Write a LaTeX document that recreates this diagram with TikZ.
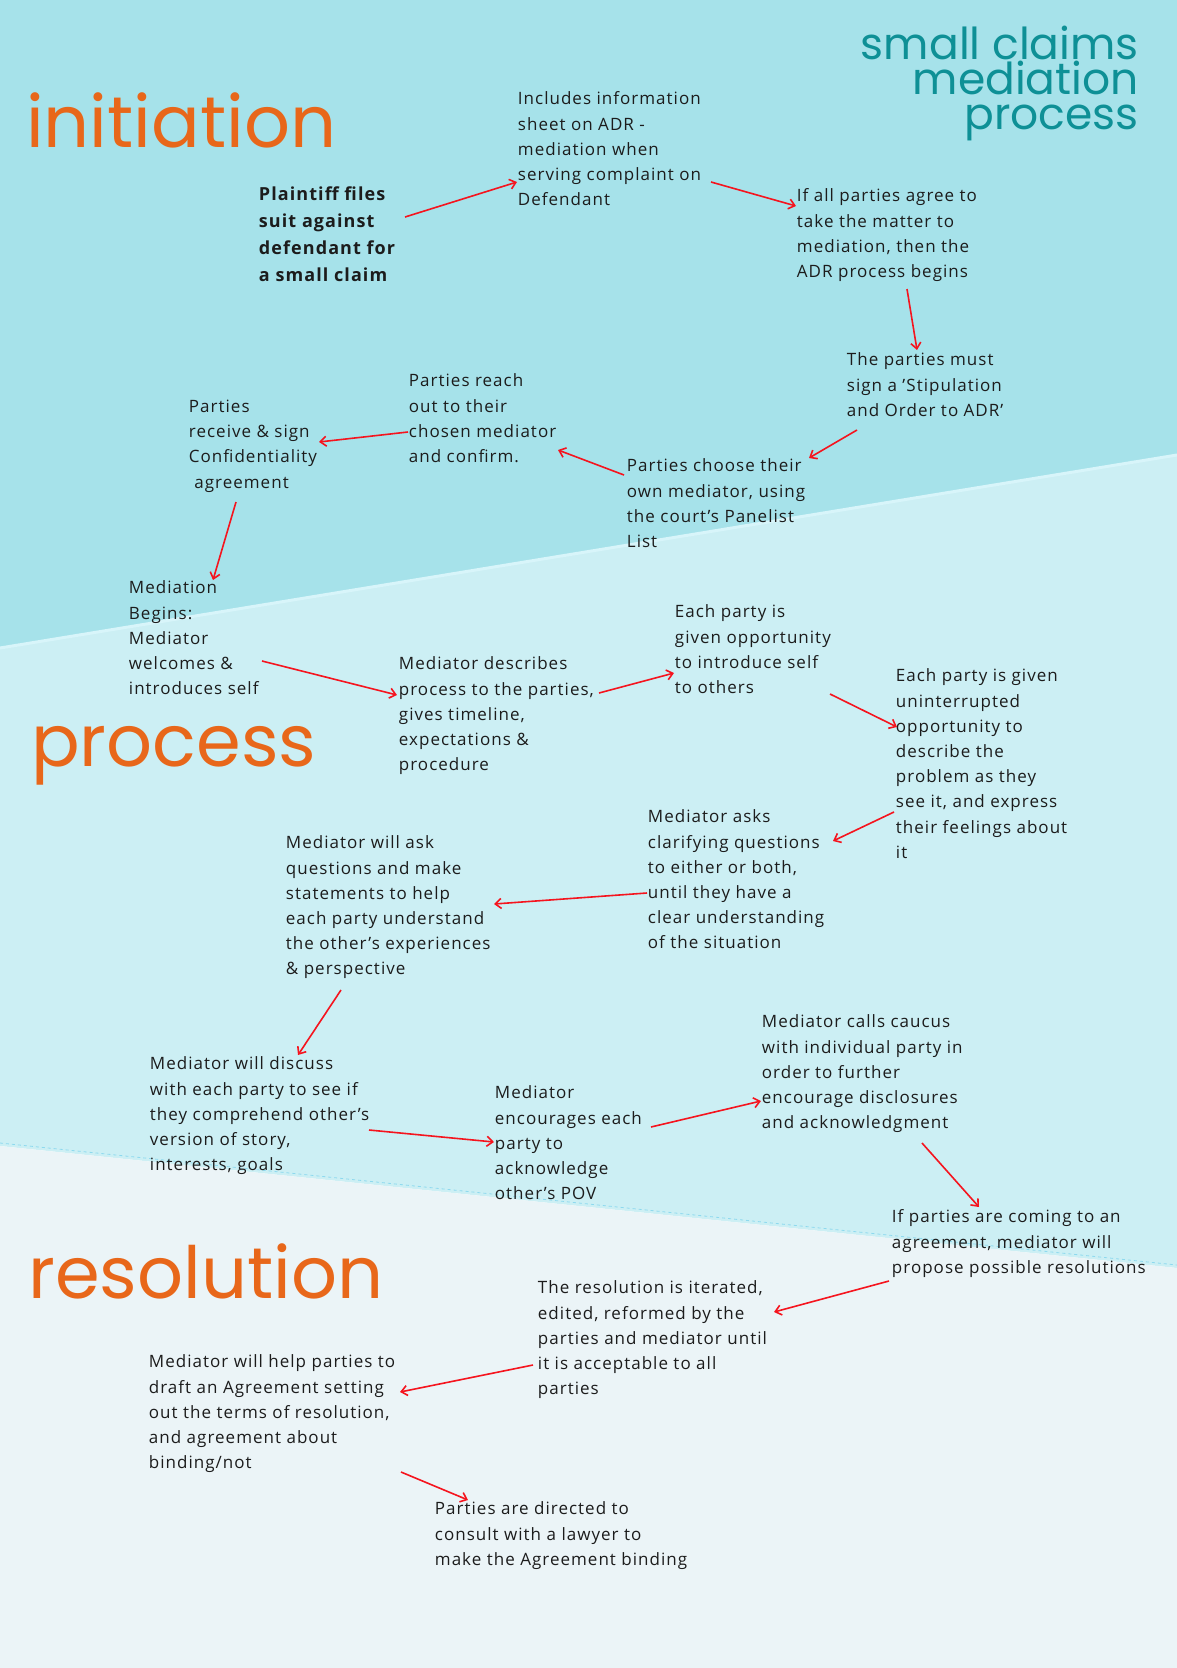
\documentclass[tikz,border=0pt]{standalone}
\usepackage{fontspec}
\setmainfont{Open Sans}[LetterSpace=6]
\newfontfamily\headfont{Poppins}
\usetikzlibrary{arrows,arrows.meta,calc}

\definecolor{topband}{HTML}{A6E2EA}
\definecolor{midband}{HTML}{CCEFF4}
\definecolor{lowband}{HTML}{EBF4F7}
\definecolor{seamline}{HTML}{D8F5FA}
\definecolor{dashline}{HTML}{8ED9EE}
\definecolor{titleteal}{HTML}{0E9096}
\definecolor{stageorange}{HTML}{E8671A}
\definecolor{notetext}{HTML}{1C1C1C}
\definecolor{linkred}{HTML}{F5141E}

\begin{document}
\begin{tikzpicture}[x=1pt,y=1pt,yscale=-1,xscale=1,
  note/.style={anchor=north west,inner sep=0.75pt,align=left,text=notetext,
    font=\fontsize{17}{25.2}\selectfont},
  stage/.style={anchor=base west,inner sep=0pt,text=stageorange,
    font=\headfont\fontsize{72}{80}\selectfont},
  link/.style={-{Straight Barb[length=6pt,width=10pt]},draw=linkred,line width=1.6pt}]
\path[use as bounding box] (0,0) rectangle (1177,1668);

%Shape: bands
\fill[topband] (0,0) -- (1177,0) -- (1177,455) -- (0,648) -- cycle;
\fill[midband] (0,648) -- (1177,455) -- (1177,1268) -- (0,1146) -- cycle;
\fill[lowband] (0,1146) -- (1177,1268) -- (1177,1668) -- (0,1668) -- cycle;
\draw[seamline,line width=3pt] (0,648) -- (1177,455);
\draw[dashline,dashed,line width=0.8pt] (0,1143) -- (1177,1265);

% Title
\draw (1139,26) node (title) [anchor=north east][inner sep=0pt][align=right]
  [text=titleteal,font=\headfont\fontsize{44}{35}\selectfont] {small claims\\mediation\\process};

% Stage Nodes
\draw (26,147) node (initiation) [stage] {initiation};
\draw (31,766) node (process) [stage] {process};
\draw (28,1298) node (resolution) [stage] {resolution};

% Text Nodes
\draw (258,186) node (plaintiff) [note,font=\bfseries\fontsize{18}{27}\selectfont] {Plaintiff files\\suit against\\defendant for\\a small claim};
\draw (517,91) node (infosheet) [note] {Includes information\\sheet on ADR -\\mediation when\\serving complaint on\\Defendant};
\draw (796,188) node (agree) [note] {If all parties agree to\\take the matter to\\mediation, then the\\ADR process begins};
\draw (846,352) node (stipulation) [note] {The parties must\\sign a 'Stipulation\\and Order to ADR'};
\draw (626,458) node (choose) [note] {Parties choose their\\own mediator, using\\the court's Panelist\\List};
\draw (408,373) node (reach) [note] {Parties reach\\out to their\\chosen mediator\\and confirm.};
\draw (188,399) node (confidential) [note] {Parties\\receive \& sign\\Confidentiality\\\ agreement};
\draw (128,580) node (begins) [note] {Mediation\\Begins:\\Mediator\\welcomes \&\\introduces self};
\draw (398,656) node (describes) [note] {Mediator describes\\process to the parties,\\gives timeline,\\expectations \&\\procedure};
\draw (674,604) node (introduce) [note] {Each party is\\given opportunity\\to introduce self\\to others};
\draw (895,668) node (uninterrupted) [note] {Each party is given\\uninterrupted\\opportunity to\\describe the\\problem as they\\see it, and express\\their feelings about\\it};
\draw (647,809) node (clarify) [note] {Mediator asks\\clarifying questions\\to either or both,\\until they have a\\clear understanding\\of the situation};
\draw (285,835) node (statements) [note] {Mediator will ask\\questions and make\\statements to help\\each party understand\\the other's experiences\\\& perspective};
\draw (149,1056) node (discuss) [note] {Mediator will discuss\\with each party to see if\\they comprehend other's\\version of story,\\interests, goals};
\draw (494,1085) node (acknowledge) [note] {Mediator\\encourages each\\party to\\acknowledge\\other's POV};
\draw (761,1014) node (caucus) [note] {Mediator calls caucus\\with individual party in\\order to further\\encourage disclosures\\and acknowledgment};
\draw (891,1209) node (propose) [note] {If parties are coming to an\\agreement, mediator will\\propose possible resolutions};
\draw (537,1280) node (iterate) [note] {The resolution is iterated,\\edited, reformed by the\\parties and mediator until\\it is acceptable to all\\parties};
\draw (148,1354) node (draft) [note] {Mediator will help parties to\\draft an Agreement setting\\out the terms of resolution,\\and agreement about\\binding/not};
\draw (434,1501) node (lawyer) [note] {Parties are directed to\\consult with a lawyer to\\make the Agreement binding};

% Arrows
\draw[link] ($(plaintiff.north west)+(147,31)$) -- ($(infosheet.north west)+(0,91)$);
\draw[link] ($(infosheet.north west)+(194,91)$) -- ($(agree.north west)+(0,18)$);
\draw[link] ($(agree.north west)+(111,101)$) -- ($(stipulation.north west)+(71,-2)$);
\draw[link] ($(stipulation.north west)+(11,78)$) -- ($(choose.north west)+(183,0)$);
\draw[link] ($(choose.north west)+(-2,17)$) -- ($(reach.north west)+(150,77)$);
\draw[link] ($(reach.north west)+(0,59)$) -- ($(confidential.north west)+(131,43)$);
\draw[link] ($(confidential.north west)+(48,103)$) -- ($(begins.north west)+(85,0)$);
\draw[link] ($(begins.north west)+(134,81)$) -- ($(describes.north west)+(-1,39)$);
\draw[link] ($(describes.north west)+(201,37)$) -- ($(introduce.north west)+(0,69)$);
\draw[link] ($(introduce.north west)+(156,90)$) -- ($(uninterrupted.north west)+(2,59)$);
\draw[link] ($(uninterrupted.north west)+(-1,144)$) -- ($(clarify.north west)+(186,32)$);
\draw[link] ($(clarify.north west)+(0,84)$) -- ($(statements.north west)+(209,69)$);
\draw[link] ($(statements.north west)+(56,155)$) -- ($(discuss.north west)+(149,-1)$);
\draw[link] ($(discuss.north west)+(220,74)$) -- ($(acknowledge.north west)+(0,57)$);
\draw[link] ($(acknowledge.north west)+(157,42)$) -- ($(caucus.north west)+(0,87)$);
\draw[link] ($(caucus.north west)+(161,129)$) -- ($(propose.north west)+(88,-2)$);
\draw[link] ($(propose.north west)+(-2,72)$) -- ($(iterate.north west)+(237,32)$);
\draw[link] ($(iterate.north west)+(-4,85)$) -- ($(draft.north west)+(252,38)$);
\draw[link] ($(draft.north west)+(253,118)$) -- ($(lawyer.north west)+(34,-1)$);

\end{tikzpicture}
\end{document}
